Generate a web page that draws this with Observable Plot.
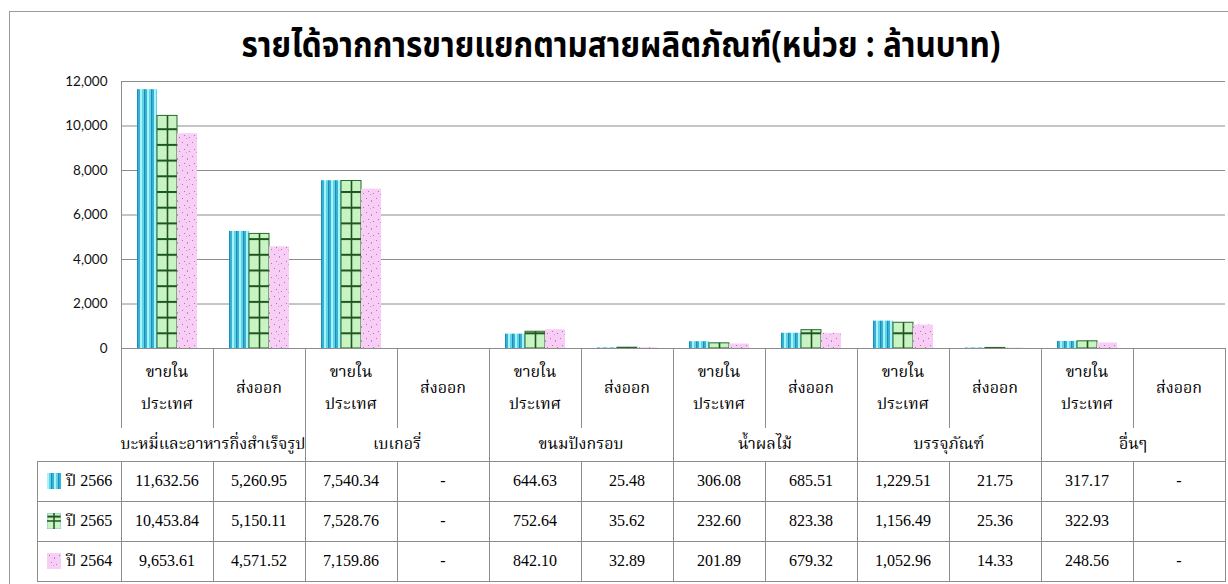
<!DOCTYPE html>
<html><head><meta charset="utf-8">
<script src="https://cdn.jsdelivr.net/npm/d3@7"></script>
<script src="https://cdn.jsdelivr.net/npm/@observablehq/plot@0.6"></script>
<style>
body{margin:0;background:#fff;}
#wrap{position:relative;width:1228px;height:584px;overflow:hidden;background:#fff;}
#frameL{position:absolute;left:9px;top:11px;width:1px;height:600px;background:#9a9a9a;}
#frameT{position:absolute;left:9px;top:11px;width:1240px;height:1px;background:#9a9a9a;}
#title{position:absolute;left:0;width:1242px;top:26px;text-align:center;font-family:"Noto Sans Thai","Tahoma","Noto Sans",sans-serif;font-weight:bold;font-size:30px;line-height:40px;color:#000;white-space:nowrap;transform:scale(1.05,1.2);transform-origin:621px 20px;}
#chart{position:absolute;left:0;top:0;}
#chart svg text{font-family:Lato,"Noto Sans",sans-serif;font-size:13.5px;fill:#111;}
#table{position:absolute;left:0;top:0;width:1228px;height:584px;}
.ln{position:absolute;background:#8c8c8c;}
.tx{position:absolute;text-align:center;white-space:nowrap;font-family:"Liberation Serif","Noto Serif Thai",serif;font-size:16px;line-height:20px;color:#000;}
</style></head><body>
<div id="wrap">
  <div id="frameL"></div><div id="frameT"></div>
  <div id="title">รายได้จากการขายแยกตามสายผลิตภัณฑ์(หน่วย : ล้านบาท)</div>
  <div id="chart"></div>
  <div id="table"></div>
</div>
<svg width="0" height="0" style="position:absolute;left:0;top:0">
  <defs>
    <pattern id="p2566" patternUnits="userSpaceOnUse" width="7" height="10">
      <rect x="0" y="0" width="7" height="10" fill="#4cc6e2"/>
      <rect x="0" y="0" width="2" height="10" fill="#a6f3fb"/>
      <rect x="2" y="0" width="2" height="10" fill="#5fd3ea"/>
      <rect x="4" y="0" width="1.5" height="10" fill="#1e8db5"/>
      <rect x="5.5" y="0" width="1.5" height="10" fill="#38b4d6"/>
    </pattern>
    <pattern id="p2565" patternUnits="userSpaceOnUse" x="0" y="348" width="10" height="15.7">
      <rect x="0" y="0" width="10" height="15.7" fill="#c8f3c2"/>
      <rect x="0" y="0" width="10" height="2" fill="#1f561f"/>
      <circle cx="5" cy="8" r="0.6" fill="#e8fbe4"/>
    </pattern>
    <pattern id="p2564" patternUnits="userSpaceOnUse" width="10" height="14">
      <rect x="0" y="0" width="10" height="14" fill="#f8cdf6"/>
      <rect x="2" y="2" width="1" height="1" fill="#a07aa8"/>
      <rect x="7" y="4" width="1" height="2" fill="#b58dbb"/>
      <rect x="4" y="9" width="1" height="1" fill="#a07aa8"/>
      <rect x="9" y="11" width="1" height="1" fill="#a07aa8"/>
      <rect x="6" y="12" width="1" height="1" fill="#c8a0cc"/>
    </pattern>
  </defs>
</svg>
<script>
// ---- data ----
const groups = ["บะหมี่และอาหารกึ่งสำเร็จรูป", "เบเกอรี่", "ขนมปังกรอบ", "น้ำผลไม้", "บรรจุภัณฑ์", "อื่นๆ"];
const channels = ["ขายในประเทศ", "ส่งออก"];
const channelLines = [["ขายใน", "ประเทศ"], ["ส่งออก"]];
const seriesNames = ["ปี 2566", "ปี 2565", "ปี 2564"];
const v2566 = [11632.56, 5260.95, 7540.34, 0, 644.63, 25.48, 306.08, 685.51, 1229.51, 21.75, 317.17, 0];
const v2565 = [10453.84, 5150.11, 7528.76, 0, 752.64, 35.62, 232.60, 823.38, 1156.49, 25.36, 322.93, null];
const v2564 = [9653.61, 4571.52, 7159.86, 0, 842.10, 32.89, 201.89, 679.32, 1052.96, 14.33, 248.56, 0];
const yTicks = [0, 2000, 4000, 6000, 8000, 10000, 12000];

const seriesValues = [v2566, v2565, v2564];
const fills = ["url(#p2566)", "url(#p2565)", "url(#p2564)"];
const keys = groups.flatMap((g, gi) => channels.map((c, ci) => gi + "-" + ci));
const rowsBySeries = seriesNames.map((s, si) =>
  seriesValues[si].map((v, i) => ({series: s, key: keys[i], value: v ?? 0})));

const marks = [Plot.ruleY(yTicks, {stroke: "#8c8c8c", strokeWidth: 1})];
seriesNames.forEach((s, si) => {
  marks.push(Plot.barY(rowsBySeries[si], {
    fx: "key", x: "series", y: "value", fill: fills[si],
    stroke: si === 1 ? "#2b672b" : "none", strokeWidth: 1
  }));
});
marks.push(Plot.ruleX(rowsBySeries[1], {
  fx: "key", x: "series", y1: 0, y2: "value", stroke: "#1f561f", strokeWidth: 1.6
}));

const chart = Plot.plot({
  width: 1228, height: 362,
  marginLeft: 121, marginRight: 3, marginTop: 81, marginBottom: 14,
  style: {fontFamily: "Lato, 'Noto Sans', sans-serif", fontSize: "13px", color: "#000", background: "transparent"},
  fx: {domain: keys, padding: 0, axis: null},
  x: {domain: seriesNames, paddingInner: 0, paddingOuter: 0.745, axis: null},
  y: {domain: [0, 12000], ticks: yTicks, tickFormat: d3.format(","), tickSize: 0, tickPadding: 14, label: null},
  marks
});
document.getElementById("chart").appendChild(chart);

// ---- data table under the chart ----
const T = document.getElementById("table");
const L = 121, CW = 92, LEG = 37;
const N = keys.length, R = L + N * CW;
function line(x, y, w, h) {
  const d = document.createElement("div");
  d.className = "ln";
  Object.assign(d.style, {left: x + "px", top: y + "px", width: w + "px", height: h + "px"});
  T.appendChild(d);
}
function text(str, cx, cy, opts = {}) {
  const d = document.createElement("div");
  d.className = "tx";
  d.textContent = str;
  Object.assign(d.style, {left: (cx - 200) + "px", width: "400px", top: (cy - 10) + "px"});
  if (opts.align) { d.style.textAlign = opts.align; d.style.left = cx + "px"; d.style.width = "auto"; }
  T.appendChild(d);
  return d;
}
line(L, 81, 1, 428 - 81);
line(L, 461, 1, 581 - 461);
line(LEG, 461, 1, 581 - 461);
line(L, 348, R - L, 1);
for (let k = 1; k <= N; k++) {
  const x = L + k * CW;
  if (k % 2 === 0) line(x, 348, 1, 581 - 348);
  else { line(x, 348, 1, 428 - 348); line(x, 461, 1, 581 - 461); }
}
[461, 501, 541, 581].forEach(y => line(LEG, y, R - LEG + 1, 1));

keys.forEach((k, i) => {
  const cx = L + i * CW + CW / 2;
  const lines = channelLines[i % 2];
  if (lines.length === 2) { text(lines[0], cx, 372); text(lines[1], cx, 404); }
  else text(lines[0], cx, 388);
});
groups.forEach((g, gi) => text(g, L + gi * 2 * CW + CW, 444));

const fmt = d3.format(",.2f");
seriesNames.forEach((s, si) => {
  const cy = 481 + si * 40;
  const sw = document.createElementNS("http://www.w3.org/2000/svg", "svg");
  sw.setAttribute("width", 14); sw.setAttribute("height", 16);
  Object.assign(sw.style, {position: "absolute", left: "47px", top: (cy - 8) + "px"});
  const r = document.createElementNS("http://www.w3.org/2000/svg", "rect");
  r.setAttribute("width", 14); r.setAttribute("height", 16); r.setAttribute("fill", fills[si]);
  if (si === 1) { r.setAttribute("stroke", "#8fb7d9"); r.setAttribute("stroke-width", 1); }
  sw.appendChild(r);
  if (si === 1) {
    const l1 = document.createElementNS("http://www.w3.org/2000/svg", "line");
    l1.setAttribute("x1", 7); l1.setAttribute("x2", 7); l1.setAttribute("y1", 0); l1.setAttribute("y2", 16);
    l1.setAttribute("stroke", "#1f561f"); l1.setAttribute("stroke-width", 1.5);
    const l2 = document.createElementNS("http://www.w3.org/2000/svg", "line");
    l2.setAttribute("x1", 0); l2.setAttribute("x2", 14); l2.setAttribute("y1", 8); l2.setAttribute("y2", 8);
    l2.setAttribute("stroke", "#1f561f"); l2.setAttribute("stroke-width", 1.5);
    sw.appendChild(l1); sw.appendChild(l2);
  }
  T.appendChild(sw);
  text(s, 66, cy, {align: "left"});
  seriesValues[si].forEach((v, i) => {
    const str = v == null ? "" : (v === 0 ? "-" : fmt(v));
    text(str, L + i * CW + CW / 2, cy);
  });
});
</script>
</body></html>
